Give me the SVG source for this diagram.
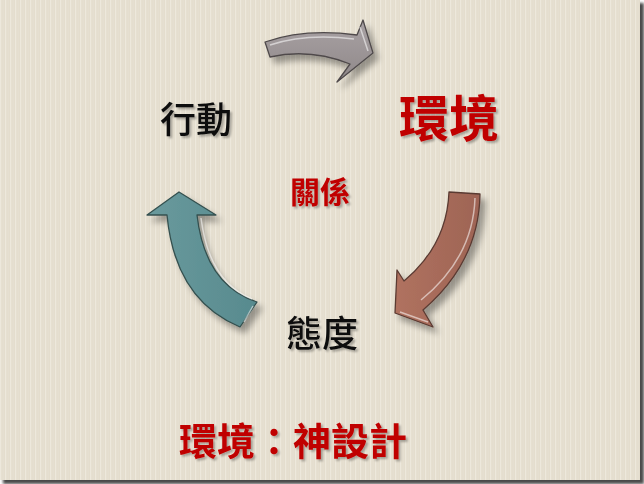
<svg xmlns="http://www.w3.org/2000/svg" width="644" height="484" viewBox="0 0 644 484">
<defs>
<style>
.lbl{font-family:"Noto Sans CJK TC","Noto Sans CJK SC",sans-serif;font-weight:bold;filter:url(#tsh)}
.red{fill:#C00000}
.blk{fill:#111;font-weight:500}
.arrow{stroke-width:1.3;stroke-linejoin:round;filter:url(#ash)}
.hl{fill:none;stroke:#fff;stroke-opacity:0.55;stroke-width:1.5}
</style>
<pattern id="stripes" width="5" height="10" patternUnits="userSpaceOnUse">
<rect width="5" height="10" fill="#E4DDCD"/>
<rect x="0" width="1.3" height="10" fill="#EDE8DC"/>
<rect x="2.6" width="1" height="10" fill="#E7E1D4"/>
</pattern>
<filter id="ash" x="-30%" y="-30%" width="160%" height="160%">
<feGaussianBlur in="SourceAlpha" stdDeviation="3"/>
<feOffset dx="5" dy="6"/>
<feComponentTransfer><feFuncA type="linear" slope="0.35"/></feComponentTransfer>
<feMerge><feMergeNode/><feMergeNode in="SourceGraphic"/></feMerge>
</filter>
<filter id="tsh" x="-20%" y="-20%" width="140%" height="140%">
<feGaussianBlur in="SourceAlpha" stdDeviation="1.2"/>
<feOffset dx="2" dy="2"/>
<feComponentTransfer><feFuncA type="linear" slope="0.3"/></feComponentTransfer>
<feMerge><feMergeNode/><feMergeNode in="SourceGraphic"/></feMerge>
</filter>
<filter id="ssh" x="-5%" y="-5%" width="110%" height="110%">
<feGaussianBlur stdDeviation="1.5"/>
</filter>
<linearGradient id="gGray" x1="0" y1="0" x2="0" y2="1">
<stop offset="0" stop-color="#A9A2A4"/><stop offset="1" stop-color="#8F8889"/>
</linearGradient>
<linearGradient id="gBrown" x1="0" y1="0" x2="1" y2="0">
<stop offset="0" stop-color="#B0725F"/><stop offset="1" stop-color="#9E6455"/>
</linearGradient>
<linearGradient id="gTeal" x1="0" y1="0" x2="1" y2="0">
<stop offset="0" stop-color="#6A9A9D"/><stop offset="1" stop-color="#578A8E"/>
</linearGradient>
</defs>

<g id="background">
<rect x="3" y="3" width="641" height="481" fill="#4a4a4a" filter="url(#ssh)"/>
<rect x="0" y="0" width="640" height="480" fill="url(#stripes)"/>
</g>

<g id="connectors">
<g id="arrow-top">
<path class="arrow" fill="url(#gGray)" stroke="#4f4a4b" d="M265,42 Q305,28 357,35 L363,20 L373,53 L337,82 L350,64 Q310,48 270,57 Z"/>
<path class="hl" d="M270,45 Q306,33 354,39 M360,27 L368,51"/>
</g>
<g id="arrow-right">
<path class="arrow" fill="url(#gBrown)" stroke="#5a3a32" d="M449,192 L480,194 Q479,262 423,310 L433,327 L395,313 L397,270 L404,281 Q447,245 449,192 Z"/>
<path class="hl" d="M475,198 Q473,258 421,300 M428,322 L400,312"/>
</g>
<g id="arrow-left">
<path class="arrow" fill="url(#gTeal)" stroke="#34504f" d="M240,327 Q175,300 167,215 L147,215 L179,192 L216,215 L197,215 Q205,285 257,302 Z"/>
<path class="hl" d="M201,218 Q209,282 252,299 M253,306 L244,322"/>
</g>
</g>

<g id="node-action"><text class="lbl blk" x="196" y="133" font-size="36" text-anchor="middle">行動</text></g>
<g id="node-environment"><text class="lbl red" x="449" y="137" font-size="50" text-anchor="middle">環境</text></g>
<g id="node-relation"><text class="lbl red" x="320" y="203" font-size="30" text-anchor="middle">關係</text></g>
<g id="node-attitude"><text class="lbl blk" x="322" y="347" font-size="36" text-anchor="middle">態度</text></g>
<g id="caption"><text class="lbl red" x="293" y="455" font-size="38" text-anchor="middle">環境：神設計</text></g>
</svg>
